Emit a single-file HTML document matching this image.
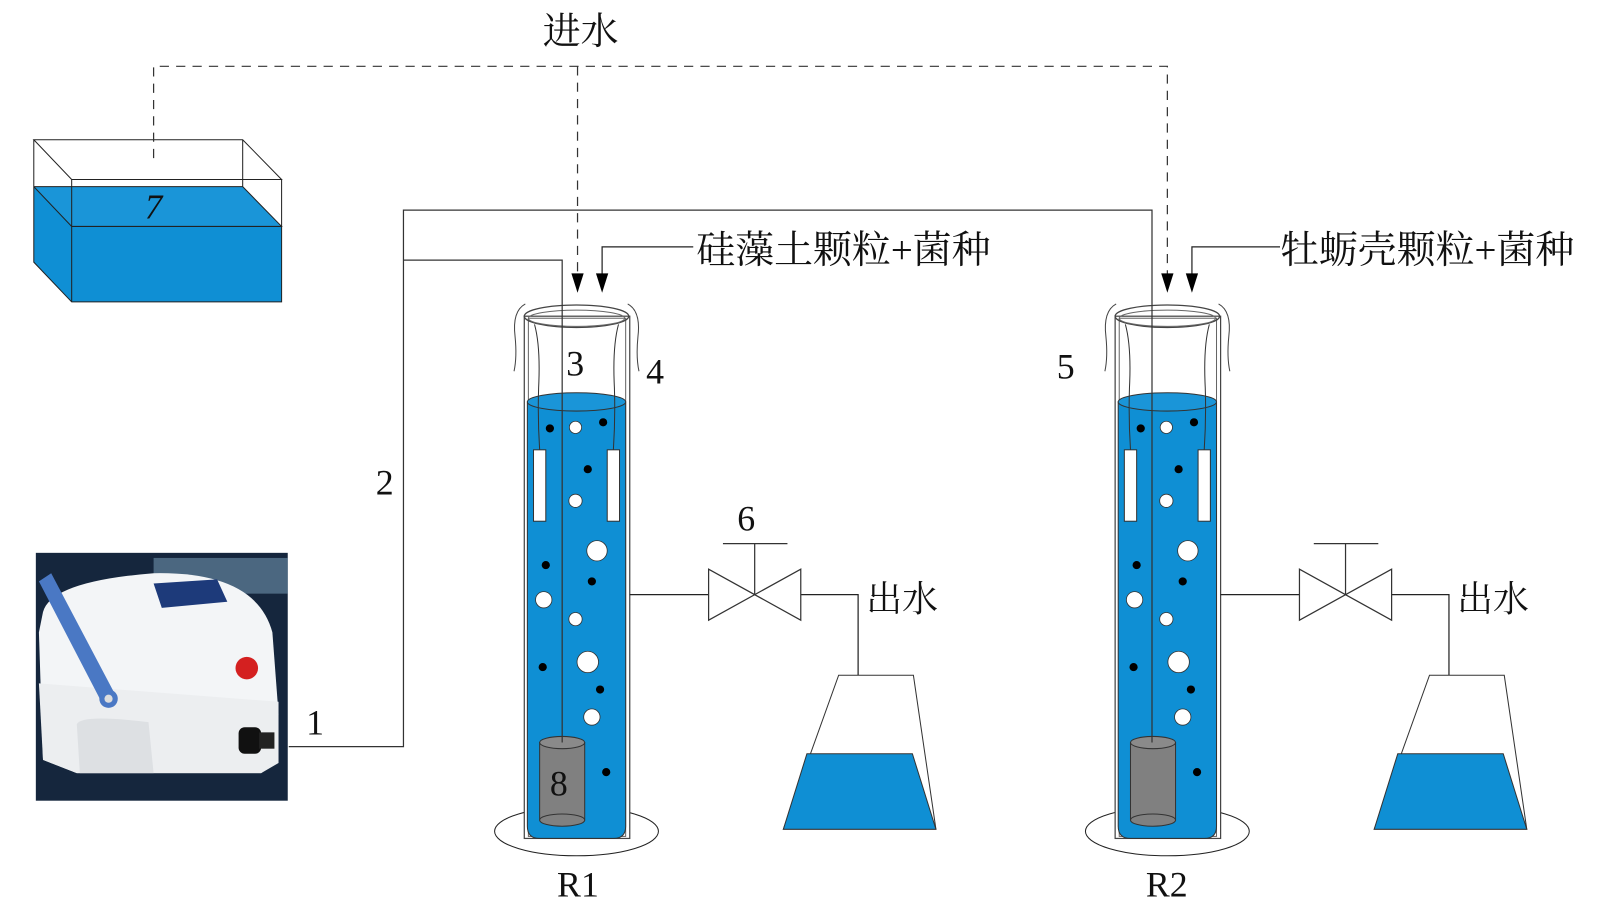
<!DOCTYPE html>
<html><head><meta charset="utf-8"><style>
body{margin:0;background:#fff;}
svg{display:block;}
text{font-family:"Liberation Serif","Noto Serif CJK SC",serif;fill:#111;}
</style></head><body>
<svg width="1600" height="914" viewBox="0 0 1600 914" xmlns="http://www.w3.org/2000/svg">
<defs>
<g id="reactor">
  <ellipse cx="563" cy="815" rx="80" ry="24" fill="none" stroke="#222" stroke-width="1"/>
  <rect x="512" y="310" width="103" height="512" fill="#fff" stroke="#444" stroke-width="1.2"/>
  <rect x="516" y="312" width="95" height="508" fill="none" stroke="#666" stroke-width="1"/>
  <path d="M515 394 L515 810 Q515 822 527 822 L599 822 Q611 822 611 810 L611 394 Z" fill="#0f8fd4" stroke="#333" stroke-width="1"/>
  <ellipse cx="563" cy="394" rx="48" ry="9" fill="#1a95d8" stroke="#333" stroke-width="1"/>
  <ellipse cx="563" cy="310" rx="51" ry="11" fill="none" stroke="#444" stroke-width="1.3"/>
  <ellipse cx="563" cy="312" rx="47" ry="8" fill="none" stroke="#666" stroke-width="1"/>
  <path d="M513 298 Q500 305 503 330 Q505 350 502 364" fill="none" stroke="#444"/>
  <path d="M613 298 Q626 305 623 330 Q621 350 624 364" fill="none" stroke="#444"/>
  <path d="M522 318 Q528 340 526 380 Q525 410 527 441" fill="none" stroke="#333"/>
  <path d="M604 318 Q598 340 600 380 Q601 410 599 441" fill="none" stroke="#333"/>
  <rect x="521" y="441" width="12" height="70" fill="#fff" stroke="#333"/>
  <rect x="593" y="441" width="12" height="70" fill="#fff" stroke="#333"/>
  <g fill="#fff" stroke="#333" stroke-width="0.8">
    <circle cx="562" cy="419" r="6"/><circle cx="562" cy="491" r="6.5"/><circle cx="583" cy="540" r="10"/>
    <circle cx="531" cy="588" r="8"/><circle cx="562" cy="607" r="6.5"/><circle cx="574" cy="649" r="10.5"/>
    <circle cx="578" cy="703" r="8"/>
  </g>
  <g fill="#000">
    <circle cx="537" cy="420" r="4"/><circle cx="589" cy="414" r="4"/><circle cx="574" cy="460" r="4"/>
    <circle cx="533" cy="554" r="4"/><circle cx="578" cy="570" r="4"/><circle cx="530" cy="654" r="4"/>
    <circle cx="586" cy="676" r="4"/><circle cx="592" cy="757" r="4"/>
  </g>
  <rect x="527" y="728" width="44" height="76" fill="#808080" stroke="#333"/>
  <ellipse cx="549" cy="804" rx="22" ry="6" fill="#808080" stroke="#333"/>
  <ellipse cx="549" cy="728" rx="22" ry="6" fill="#8a8a8a" stroke="#333"/>
  <path d="M615 583 H692 M782 583 H838 V690" fill="none" stroke="#222" stroke-width="1.2"/>
  <polygon points="833,688 843,688 838,703" fill="#000"/>
  <path d="M692 558 L692 608 L782 558 L782 608 Z" fill="#fff" stroke="#333" stroke-width="1.2"/>
  <path d="M737 583 V533 M706 533 H769" stroke="#333" stroke-width="1.2"/>
  <polygon points="819,662 892,662 914,813 765,813" fill="#fff" stroke="#333"/>
  <polygon points="788,739 891,739 914,813 765,813" fill="#0f8fd4" stroke="#333"/>
  <text x="846" y="599" font-size="35">出水</text>
</g>
</defs>
<g transform="scale(1.024,1.02)">
<polygon points="33,183 237,183 275,222 70,222" fill="#1a95d8"/>
<polygon points="33,183 70,222 70,296 33,257" fill="#0f8fd4"/>
<rect x="70" y="222" width="205" height="74" fill="#0f8fd4"/>
<g fill="none" stroke="#222" stroke-width="1">
<path d="M33 137 H237 L275 176 H70 Z M33 137 V257 L70 296 H275 V176 M70 176 V296 M237 137 V183 M33 183 L70 222 H275 L237 183 H33"/>
</g>
<text x="150" y="214" font-size="34" text-anchor="middle" font-style="italic">7</text>

<rect x="35" y="542" width="246" height="243" fill="#15263d"/>
<rect x="150" y="547" width="131" height="35" fill="#6f93ae" opacity="0.6"/>
<path d="M42 600 Q50 570 150 562 Q250 560 266 620 L272 700 Q272 748 255 758 L75 758 L42 745 L38 620 Z" fill="#f3f5f7"/>
<path d="M38 670 L272 688 L272 748 L255 758 L75 758 L42 745 Z" fill="#eceef0"/>
<path d="M75 710 Q80 700 145 708 L150 758 L78 758 Z" fill="#dde0e3"/>
<polygon points="150,572 212,568 222,590 158,596" fill="#1d3a7a"/>
<path d="M38 570 L50 562 L112 680 L100 690 Z" fill="#4a78c4"/>
<circle cx="106" cy="685" r="9" fill="#4a78c4"/><circle cx="106" cy="685" r="4" fill="#ddd"/>
<circle cx="241" cy="655" r="11" fill="#d42020"/>
<rect x="233" y="713" width="22" height="26" rx="6" fill="#111"/>
<rect x="253" y="718" width="15" height="16" fill="#222"/>

<use href="#reactor"/>
<use href="#reactor" transform="translate(577,0)"/>

<path d="M282 732 H394 V206 H1125 V728 M394 255 H549 V728" fill="none" stroke="#333" stroke-width="1.2"/>
<path d="M150 155 V65 H1140 V270 M564 65 V270" fill="none" stroke="#333" stroke-width="1.2" stroke-dasharray="9,7"/>
<polygon points="558,268 570,268 564,287" fill="#000"/>
<polygon points="1134,268 1146,268 1140,287" fill="#000"/>
<path d="M677 242 H588 V270 M1250 242 H1164 V270" fill="none" stroke="#222" stroke-width="1.2"/>
<polygon points="582,268 594,268 588,287" fill="#000"/>
<polygon points="1158,268 1170,268 1164,287" fill="#000"/>

<text x="530" y="43" font-size="37">进水</text>
<text x="680" y="258" font-size="38">硅藻土颗粒+菌种</text>
<text x="1250" y="258" font-size="38">牡蛎壳颗粒+菌种</text>
<text x="553" y="368" font-size="35">3</text>
<text x="631" y="376" font-size="35">4</text>
<text x="1032" y="371" font-size="35">5</text>
<text x="720" y="520" font-size="35">6</text>
<text x="367" y="485" font-size="35">2</text>
<text x="299" y="720" font-size="35">1</text>
<text x="537" y="780" font-size="35">8</text>
<text x="544" y="879" font-size="35">R1</text>
<text x="1119" y="879" font-size="35">R2</text>
</g>
</svg>
</body></html>
